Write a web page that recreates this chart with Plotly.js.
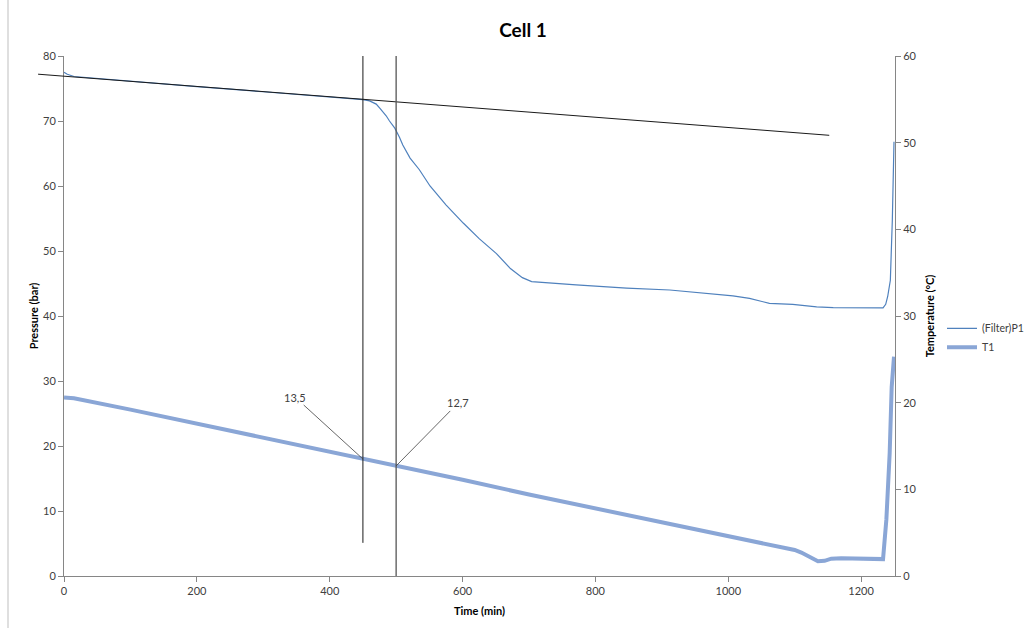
<!DOCTYPE html>
<html>
<head>
<meta charset="utf-8">
<script src="https://cdn.plot.ly/plotly-3.0.1.min.js"></script>
<style>html,body{margin:0;padding:0;background:#fff;}#chart{width:1030px;height:628px;}</style>
</head>
<body>
<div id="chart"></div>
<script>
// Pressure series (left axis, bar)
var p1Time = [0, 5, 15, 100, 200, 300, 400, 440, 450, 460, 470, 476, 485, 490, 498, 505, 510, 521, 535, 551, 575, 601, 625, 651, 672, 690, 704, 771, 847, 912, 957, 1007, 1032, 1050, 1062, 1097, 1133, 1158, 1200, 1233, 1237, 1240, 1244, 1247, 1249.5];
var p1Vals = [77.5, 77.2, 76.85, 76.1, 75.3, 74.5, 73.75, 73.4, 73.3, 73.1, 72.6, 71.9, 70.8, 70.0, 68.9, 67.5, 66.3, 64.3, 62.5, 60.0, 57.1, 54.3, 51.9, 49.6, 47.3, 45.9, 45.3, 44.8, 44.3, 44.0, 43.6, 43.1, 42.7, 42.3, 41.95, 41.8, 41.4, 41.3, 41.3, 41.25, 41.8, 43.0, 45.5, 54.8, 66.8];

// Temperature series (right axis, °C)
var t1Time = [0, 15, 100, 200, 300, 400, 450, 500, 600, 700, 800, 900, 956, 1000, 1050, 1100, 1110, 1120, 1128, 1135, 1145, 1155, 1170, 1200, 1233, 1238, 1243, 1246, 1249.5];
var t1Vals = [20.6, 20.5, 19.2, 17.6, 16.0, 14.3, 13.5, 12.7, 11.1, 9.4, 7.8, 6.2, 5.2, 4.5, 3.7, 3.0, 2.7, 2.3, 1.9, 1.7, 1.75, 2.0, 2.05, 2.0, 1.95, 6.5, 14.2, 21.8, 25.3];

// Tangent line (pressure) endpoints
var tangentTime = [-39, 1152];
var tangentP = [77.2, 67.8];

// Marker lines (time) and their labelled temperatures
var markerTime = [450, 500];
var markerBottomP = [5.1, 0];
var markerLabels = ['13,5', '12,7'];
var markerTemps = [13.5, 12.7];

var xMax = 1251, pMax = 80, tMax = 60;
var FONT = 'Lato, "Open Sans", sans-serif';

var traces = [
  {x: p1Time, y: p1Vals, name: '(Filter)P1', type: 'scatter', mode: 'lines',
   line: {color: '#4F81BD', width: 1.2}, yaxis: 'y'},
  {x: t1Time, y: t1Vals, name: 'T1', type: 'scatter', mode: 'lines',
   line: {color: '#8AA6D6', width: 4}, yaxis: 'y2'}
];

function px(t) { return t / xMax; }
function py(p) { return p / pMax; }

var shapes = [
  {type: 'line', xref: 'paper', yref: 'paper',
   x0: px(tangentTime[0]), y0: py(tangentP[0]), x1: px(tangentTime[1]), y1: py(tangentP[1]),
   line: {color: '#1a1a1a', width: 1}},
  {type: 'line', xref: 'x', yref: 'y', x0: markerTime[0], x1: markerTime[0], y0: markerBottomP[0], y1: pMax,
   line: {color: '#1a1a1a', width: 1}},
  {type: 'line', xref: 'x', yref: 'y', x0: markerTime[1], x1: markerTime[1], y0: markerBottomP[1], y1: pMax,
   line: {color: '#555555', width: 1.3}},
  {type: 'line', xref: 'paper', yref: 'paper', x0: -56/831, x1: -56/831, y0: -1, y1: 2,
   line: {color: '#bfbfbf', width: 1}}
];

var annotations = [
  {x: markerTime[0], y: markerTemps[0], xref: 'x', yref: 'y2', text: markerLabels[0],
   showarrow: true, arrowhead: 0, arrowwidth: 0.8, arrowcolor: '#404040', ax: -68, ay: -62,
   font: {family: FONT, size: 11, color: '#404040'}, standoff: 0},
  {x: markerTime[1], y: markerTemps[1], xref: 'x', yref: 'y2', text: markerLabels[1],
   showarrow: true, arrowhead: 0, arrowwidth: 0.8, arrowcolor: '#404040', ax: 62, ay: -63,
   font: {family: FONT, size: 11, color: '#404040'}, standoff: 0}
];

var axisCommon = {
  showgrid: false, zeroline: false, showline: true, linecolor: '#868686', linewidth: 1,
  ticks: 'outside', ticklen: 5, tickcolor: '#868686', tickwidth: 1,
  tickfont: {family: FONT, size: 11, color: '#404040'}, automargin: false
};

var layout = {
  width: 1030, height: 628,
  margin: {l: 64, r: 135, t: 56, b: 52, autoexpand: false},
  paper_bgcolor: '#ffffff', plot_bgcolor: '#ffffff',
  font: {family: FONT},
  title: {text: '<b>Cell 1</b>', font: {family: FONT, size: 19, color: '#000'},
          xref: 'paper', x: (523 - 64) / 831, xanchor: 'center', yref: 'container', y: 1 - 30 / 628, yanchor: 'middle'},
  xaxis: Object.assign({}, axisCommon, {range: [0, xMax], dtick: 200, tick0: 0,
    title: {text: '<b>Time (min)</b>', font: {family: FONT, size: 11, color: '#000'}, standoff: 11}}),
  yaxis: Object.assign({}, axisCommon, {range: [0, pMax], dtick: 10,
    title: {text: '<b>Pressure (bar)</b>', font: {family: FONT, size: 11, color: '#000'}, standoff: 2}}),
  yaxis2: Object.assign({}, axisCommon, {range: [0, tMax], dtick: 10, overlaying: 'y', side: 'right',
    title: {text: '<b>Temperature (°C)</b>', font: {family: FONT, size: 11, color: '#000'}, standoff: 10}}),
  showlegend: true,
  legend: {x: (942 - 64) / 831, y: 0.458, xanchor: 'left', yanchor: 'middle', bgcolor: 'rgba(0,0,0,0)',
           font: {family: FONT, size: 10.5, color: '#404040'}, tracegroupgap: 4, borderwidth: 0, itemsizing: 'trace'},
  shapes: shapes,
  annotations: annotations
};

Plotly.newPlot('chart', traces, layout, {displayModeBar: false, staticPlot: true});
</script>
</body>
</html>
